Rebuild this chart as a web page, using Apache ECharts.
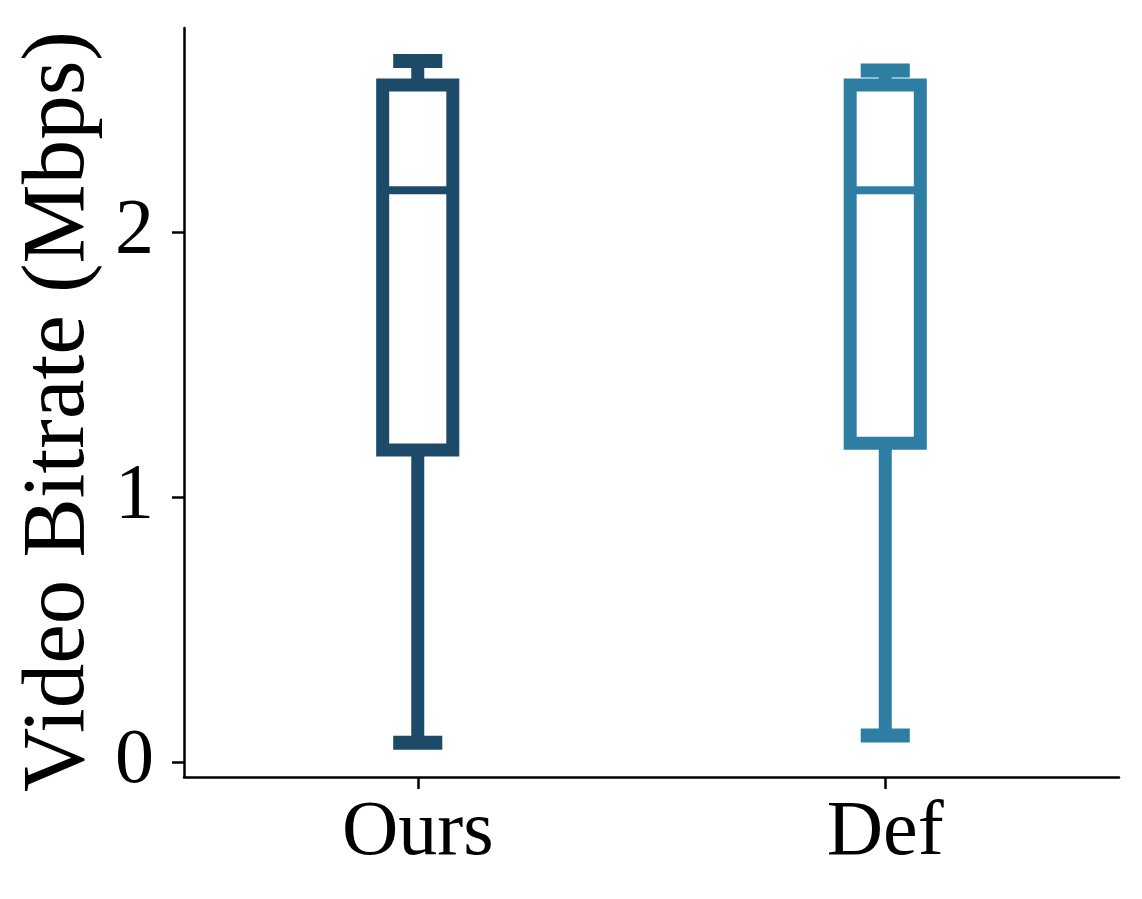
<!DOCTYPE html>
<html>
<head>
<meta charset="utf-8">
<script src="https://cdn.jsdelivr.net/npm/echarts@6/dist/echarts.min.js"></script>
<style>html,body{margin:0;padding:0;background:#fff;}#c{width:1142px;height:899px;}</style>
</head>
<body>
<div id="c"></div>
<script>
const categories = ['Ours', 'Def'];
const mins = [0.072, 0.10];
const q1s = [1.177, 1.203];
const medians = [2.158, 2.158];
const q3s = [2.555, 2.555];
const maxs = [2.645, 2.61];
const yTicks = [0, 1, 2];
const colors = ['#1e4a6a', '#2e7ea3'];

const FONT = '"Liberation Serif", "DejaVu Serif", serif';
const chart = echarts.init(document.getElementById('c'), null, {renderer: 'canvas'});

const data = categories.map((c, i) => [i, mins[i], q1s[i], medians[i], q3s[i], maxs[i]]);

function renderItem(params, api) {
  const idx = api.value(0);
  const band = api.size([1, 0])[0];
  const color = colors[idx];
  const pMin = api.coord([idx, api.value(1)]);
  const pQ1 = api.coord([idx, api.value(2)]);
  const pMed = api.coord([idx, api.value(3)]);
  const pQ3 = api.coord([idx, api.value(4)]);
  const pMax = api.coord([idx, api.value(5)]);
  const cx = pMin[0];
  const boxHalf = band * 0.075;
  const capHalf = band * 0.0525;
  const lw = 13;
  return {
    type: 'group',
    children: [
      {type: 'line', shape: {x1: cx, y1: pQ1[1], x2: cx, y2: pMin[1]}, style: {stroke: color, lineWidth: lw}},
      {type: 'line', shape: {x1: cx, y1: pQ3[1], x2: cx, y2: pMax[1]}, style: {stroke: color, lineWidth: lw}},
      {type: 'line', shape: {x1: cx - capHalf, y1: pMin[1], x2: cx + capHalf, y2: pMin[1]}, style: {stroke: color, lineWidth: 14}},
      {type: 'line', shape: {x1: cx - capHalf, y1: pMax[1], x2: cx + capHalf, y2: pMax[1]}, style: {stroke: color, lineWidth: 14}},
      {type: 'rect', shape: {x: cx - boxHalf, y: pQ3[1], width: boxHalf * 2, height: pQ1[1] - pQ3[1]}, style: {fill: '#fff', stroke: color, lineWidth: lw}},
      {type: 'line', shape: {x1: cx - boxHalf, y1: pMed[1], x2: cx + boxHalf, y2: pMed[1]}, style: {stroke: color, lineWidth: 8}}
    ]
  };
}

chart.setOption({
  animation: false,
  backgroundColor: '#fff',
  grid: {left: 184, right: 23, top: 28, bottom: 122},
  xAxis: {
    type: 'category',
    data: categories,
    boundaryGap: true,
    axisLine: {onZero: false, lineStyle: {color: '#000', width: 2.5}},
    axisTick: {show: true, alignWithLabel: true, length: 12, lineStyle: {color: '#000', width: 2.5}},
    axisLabel: {color: '#000', fontFamily: FONT, fontSize: 78, margin: 18}
  },
  yAxis: {
    type: 'value',
    min: -0.057,
    max: 2.77,
    splitLine: {show: false},
    axisLine: {show: true, lineStyle: {color: '#000', width: 2.5}},
    axisTick: {show: true, length: 12, customValues: yTicks, lineStyle: {color: '#000', width: 2.5}},
    axisLabel: {color: '#000', fontFamily: FONT, fontSize: 78, margin: 30, customValues: yTicks},
    name: 'Video Bitrate (Mbps)',
    nameLocation: 'middle',
    nameGap: 80,
    nameTextStyle: {color: '#000', fontFamily: FONT, fontSize: 89, padding: [0, 18, 0, 0]}
  },
  series: [{
    type: 'custom',
    renderItem: renderItem,
    encode: {x: 0, y: [1, 2, 3, 4, 5]},
    data: data
  }]
});
</script>
</body>
</html>
